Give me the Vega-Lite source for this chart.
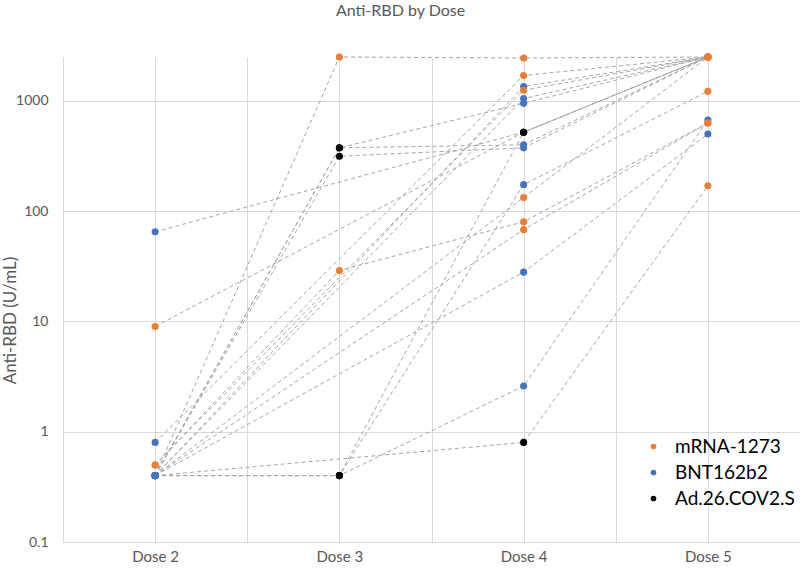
{
  "$schema": "https://vega.github.io/schema/vega-lite/v6.json",
  "width": 737,
  "height": 485,
  "autosize": {"type": "none"},
  "padding": {"left": 63, "top": 57, "right": 0, "bottom": 28},
  "background": "white",
  "config": {"font": "Lato", "view": {"stroke": null}},
  "title": {"text": "Anti-RBD by Dose", "fontSize": 16, "fontWeight": "normal", "color": "#595959", "offset": 34, "dx": -31, "anchor": "middle"},
  "data": {"values": [
    {"s": 1, "dose": 2, "v": 0.4, "vac": "BNT162b2"},
    {"s": 1, "dose": 3, "v": 2500, "vac": "mRNA-1273"},
    {"s": 1, "dose": 4, "v": 2450, "vac": "mRNA-1273"},
    {"s": 1, "dose": 5, "v": 2500, "vac": "mRNA-1273"},
    {"s": 2, "dose": 2, "v": 0.4, "vac": "BNT162b2"},
    {"s": 2, "dose": 3, "v": 0.4, "vac": "Ad.26.COV2.S"},
    {"s": 2, "dose": 4, "v": 2.6, "vac": "BNT162b2"},
    {"s": 2, "dose": 5, "v": 670, "vac": "BNT162b2"},
    {"s": 3, "dose": 2, "v": 0.4, "vac": "BNT162b2"},
    {"s": 3, "dose": 3, "v": 0.4, "vac": "Ad.26.COV2.S"},
    {"s": 3, "dose": 4, "v": 520, "vac": "Ad.26.COV2.S"},
    {"s": 3, "dose": 5, "v": 2500, "vac": "mRNA-1273"},
    {"s": 4, "dose": 2, "v": 0.4, "vac": "BNT162b2"},
    {"s": 4, "dose": 3, "v": 0.4, "vac": "Ad.26.COV2.S"},
    {"s": 4, "dose": 4, "v": 174, "vac": "BNT162b2"},
    {"s": 4, "dose": 5, "v": 1220, "vac": "mRNA-1273"},
    {"s": 5, "dose": 2, "v": 0.8, "vac": "BNT162b2"},
    {"s": 5, "dose": 4, "v": 1700, "vac": "mRNA-1273"},
    {"s": 5, "dose": 5, "v": 2500, "vac": "mRNA-1273"},
    {"s": 6, "dose": 2, "v": 65, "vac": "BNT162b2"},
    {"s": 6, "dose": 4, "v": 520, "vac": "Ad.26.COV2.S"},
    {"s": 6, "dose": 5, "v": 2500, "vac": "mRNA-1273"},
    {"s": 7, "dose": 2, "v": 9, "vac": "mRNA-1273"},
    {"s": 7, "dose": 4, "v": 520, "vac": "Ad.26.COV2.S"},
    {"s": 7, "dose": 5, "v": 2500, "vac": "mRNA-1273"},
    {"s": 8, "dose": 2, "v": 0.4, "vac": "BNT162b2"},
    {"s": 8, "dose": 4, "v": 0.8, "vac": "Ad.26.COV2.S"},
    {"s": 8, "dose": 5, "v": 170, "vac": "mRNA-1273"},
    {"s": 9, "dose": 2, "v": 0.4, "vac": "BNT162b2"},
    {"s": 9, "dose": 3, "v": 375, "vac": "Ad.26.COV2.S"},
    {"s": 9, "dose": 4, "v": 950, "vac": "BNT162b2"},
    {"s": 9, "dose": 5, "v": 2500, "vac": "mRNA-1273"},
    {"s": 10, "dose": 2, "v": 0.4, "vac": "BNT162b2"},
    {"s": 10, "dose": 3, "v": 375, "vac": "Ad.26.COV2.S"},
    {"s": 10, "dose": 4, "v": 400, "vac": "BNT162b2"},
    {"s": 10, "dose": 5, "v": 2500, "vac": "mRNA-1273"},
    {"s": 11, "dose": 2, "v": 0.4, "vac": "BNT162b2"},
    {"s": 11, "dose": 3, "v": 315, "vac": "Ad.26.COV2.S"},
    {"s": 11, "dose": 4, "v": 375, "vac": "BNT162b2"},
    {"s": 11, "dose": 5, "v": 2500, "vac": "mRNA-1273"},
    {"s": 12, "dose": 2, "v": 0.4, "vac": "BNT162b2"},
    {"s": 12, "dose": 4, "v": 1350, "vac": "BNT162b2"},
    {"s": 12, "dose": 5, "v": 2500, "vac": "mRNA-1273"},
    {"s": 13, "dose": 2, "v": 0.5, "vac": "mRNA-1273"},
    {"s": 13, "dose": 4, "v": 1250, "vac": "mRNA-1273"},
    {"s": 13, "dose": 5, "v": 2500, "vac": "mRNA-1273"},
    {"s": 14, "dose": 2, "v": 0.4, "vac": "BNT162b2"},
    {"s": 14, "dose": 4, "v": 1050, "vac": "BNT162b2"},
    {"s": 14, "dose": 5, "v": 2500, "vac": "mRNA-1273"},
    {"s": 15, "dose": 2, "v": 0.5, "vac": "mRNA-1273"},
    {"s": 15, "dose": 3, "v": 29, "vac": "mRNA-1273"},
    {"s": 15, "dose": 4, "v": 80, "vac": "mRNA-1273"},
    {"s": 15, "dose": 5, "v": 630, "vac": "mRNA-1273"},
    {"s": 16, "dose": 2, "v": 0.4, "vac": "BNT162b2"},
    {"s": 16, "dose": 4, "v": 68, "vac": "mRNA-1273"},
    {"s": 16, "dose": 5, "v": 630, "vac": "mRNA-1273"},
    {"s": 17, "dose": 2, "v": 0.4, "vac": "BNT162b2"},
    {"s": 17, "dose": 4, "v": 28, "vac": "BNT162b2"},
    {"s": 17, "dose": 5, "v": 500, "vac": "BNT162b2"},
    {"s": 18, "dose": 2, "v": 0.4, "vac": "BNT162b2"},
    {"s": 18, "dose": 4, "v": 133, "vac": "mRNA-1273"},
    {"s": 18, "dose": 5, "v": 2500, "vac": "mRNA-1273"}
  ]},
  "encoding": {
    "x": {"field": "dose", "type": "quantitative", "scale": {"domain": [1.5, 5.5], "nice": false, "zero": false},
      "axis": {"title": null, "values": [1.5, 2, 2.5, 3, 3.5, 4, 4.5, 5, 5.5], "labelExpr": "datum.value % 1 === 0 ? 'Dose ' + datum.value : ''", "labelOverlap": false, "grid": true, "gridColor": "#d9d9d9", "ticks": false, "domainColor": "#d9d9d9", "labelColor": "#595959", "labelFontSize": 15, "labelPadding": 7}},
    "y": {"field": "v", "type": "quantitative", "scale": {"type": "log", "domain": [0.1, 2500], "nice": false},
      "axis": {"title": "Anti-RBD (U/mL)", "values": [0.1, 1, 10, 100, 1000], "format": "~g", "grid": true, "gridColor": "#d9d9d9", "ticks": false, "domainColor": "#d9d9d9", "labelColor": "#595959", "labelFontSize": 14, "labelPadding": 15, "titleFontSize": 17, "titleFontWeight": "normal", "titleColor": "#595959", "titleX": -53, "titleY": 263, "titleBaseline": "middle", "titleAlign": "center"}}
  },
  "layer": [
    {"mark": {"type": "line", "color": "#a6a6a6", "strokeWidth": 1, "strokeDash": [4, 3]},
     "encoding": {"detail": {"field": "s", "type": "nominal"}, "order": {"field": "dose", "type": "quantitative"}}},
    {"mark": {"type": "circle", "size": 50, "opacity": 1},
     "encoding": {"color": {"field": "vac", "type": "nominal",
       "scale": {"domain": ["mRNA-1273", "BNT162b2", "Ad.26.COV2.S"], "range": ["#ED7D31", "#4472C4", "#000000"]},
       "legend": {"title": null, "orient": "none", "legendX": 581, "legendY": 380, "padding": 0, "labelFontSize": 19, "labelColor": "#000000", "symbolType": "circle", "symbolSize": 32, "rowPadding": 6, "labelOffset": 12}}}}
  ]
}
